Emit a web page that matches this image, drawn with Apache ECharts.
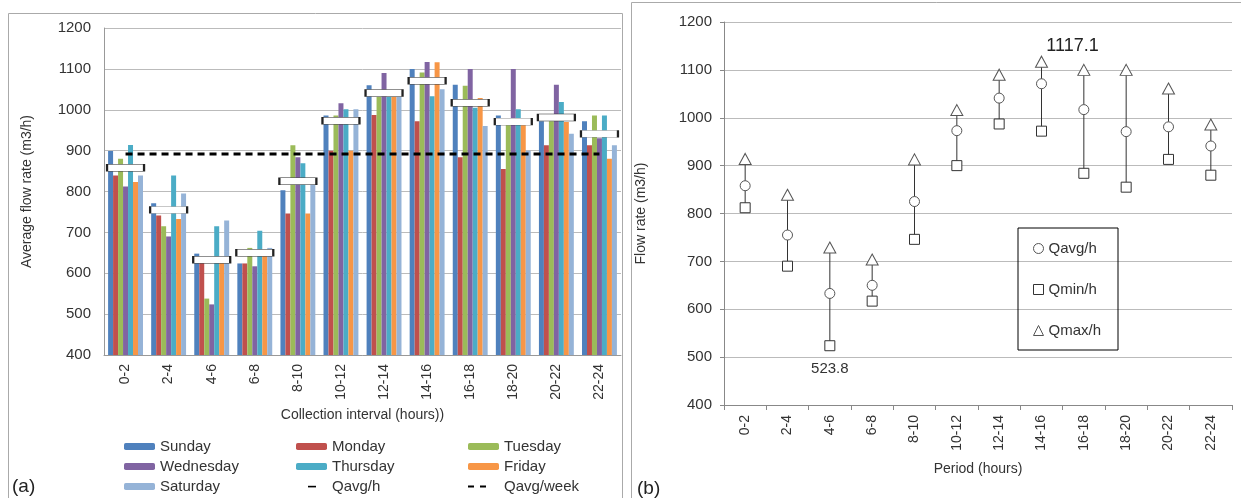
<!DOCTYPE html>
<html>
<head>
<meta charset="utf-8">
<script src="https://cdn.jsdelivr.net/npm/echarts@6/dist/echarts.min.js"></script>
<style>
  html, body { margin: 0; padding: 0; background: #fff; }
  #main { width: 1241px; height: 498px; }
</style>
</head>
<body>
<div id="main"></div>
<script>
    var periods = ['0-2', '2-4', '4-6', '6-8', '8-10', '10-12', '12-14', '14-16', '16-18', '18-20', '20-22', '22-24'];
    var days = ['Sunday', 'Monday', 'Tuesday', 'Wednesday', 'Thursday', 'Friday', 'Saturday'];

    // average flow per weekday (m3/h)
    var sunday    = [899, 771, 648, 624, 803, 986, 1060, 1100, 1061, 986, 972, 972];
    var monday    = [839, 741, 625, 624, 746, 900, 987, 972, 884, 855, 913, 913];
    var tuesday   = [880, 715, 538, 662, 913, 986, 1032, 1091, 1059, 962, 972, 986];
    var wednesday = [812, 690, 523.8, 617, 884, 1016, 1090, 1117.1, 1100, 1100, 1061, 930];
    var thursday  = [914, 839, 715, 704, 869, 1001, 1032, 1033, 1005, 1001, 1019, 986];
    var friday    = [823, 733, 625, 648, 746, 900, 1032, 1116, 1029, 962, 970, 880];
    var saturday  = [839, 795, 729, 662, 818, 1001, 1032, 1050, 960, 900, 941, 913];

    var qAvg = [858, 755, 633, 650, 825, 973, 1041, 1071, 1017, 971, 981, 941];
    var qMin = [812, 690, 523.8, 617, 746, 900, 987, 972, 884, 855, 913, 880];
    var qMax = [914, 839, 729, 704, 913, 1016, 1090, 1117.1, 1100, 1100, 1061, 986];
    var qAvgWeek = 892;

    var yTicks = { min: 400, max: 1200, interval: 100 };

    var dayValues = [sunday, monday, tuesday, wednesday, thursday, friday, saturday];
    var dayColors = ['#4F81BD', '#C0504D', '#9BBB59', '#8064A2', '#4BACC6', '#F79646', '#95B3D7'];

    var font = 'Liberation Sans, Arial, sans-serif';
    var txt = '#333';

    var myChart = echarts.init(document.getElementById('main'));

    var series = [];
    for (var i = 0; i < days.length; i++) {
        series.push({
            name: days[i],
            type: 'bar',
            xAxisIndex: 0, yAxisIndex: 0,
            barGap: 0,
            barCategoryGap: '19%',
            itemStyle: { color: dayColors[i] },
            data: dayValues[i]
        });
    }

    series.push({
        name: 'Qavg/week',
        type: 'line',
        xAxisIndex: 0, yAxisIndex: 0,
        symbol: 'none',
        z: 4,
        lineStyle: { color: '#000', width: 3, type: [7, 5] },
        data: periods.map(function (p, i) {
            if (i == 2) {
                return { value: qAvgWeek, label: { show: true, position: 'top', offset: [-8, -1], fontSize: 16, color: '#000', fontFamily: font } };
            }
            return qAvgWeek;
        })
    });

    series.push({
        name: 'Qavg/h',
        type: 'scatter',
        xAxisIndex: 0, yAxisIndex: 0,
        symbol: 'rect',
        symbolSize: [37, 7],
        z: 5,
        itemStyle: { color: '#fff', borderColor: '#222', borderWidth: 1, opacity: 1 },
        data: qAvg
    });

    // right chart: range bars
    series.push({
        type: 'custom',
        xAxisIndex: 1, yAxisIndex: 1,
        z: 1,
        data: periods.map(function (p, i) { return [i, qMin[i], qMax[i]]; }),
        encode: { x: 0, y: [1, 2] },
        renderItem: function (params, api) {
            var lo = api.coord([api.value(0), api.value(1)]);
            var hi = api.coord([api.value(0), api.value(2)]);
            return {
                type: 'line',
                shape: { x1: lo[0], y1: lo[1], x2: hi[0], y2: hi[1] },
                style: { stroke: '#333', lineWidth: 1 }
            };
        }
    });

    var hollow = { color: '#fff', borderColor: '#555', borderWidth: 1, opacity: 1 };

    series.push({
        name: 'Qavg/h',
        type: 'scatter',
        xAxisIndex: 1, yAxisIndex: 1,
        symbol: 'circle', symbolSize: 10, z: 3,
        itemStyle: hollow,
        data: qAvg
    });
    series.push({
        name: 'Qmin/h',
        type: 'scatter',
        xAxisIndex: 1, yAxisIndex: 1,
        symbol: 'rect', symbolSize: 10, z: 3,
        itemStyle: { color: '#fff', borderColor: '#333', borderWidth: 1, opacity: 1 },
        data: qMin.map(function (v, i) {
            if (i == 2) {
                return { value: v, label: { show: true, position: 'bottom', distance: 10, fontSize: 15, color: txt, fontFamily: font } };
            }
            return v;
        })
    });
    series.push({
        name: 'Qmax/h',
        type: 'scatter',
        xAxisIndex: 1, yAxisIndex: 1,
        symbol: 'triangle', symbolSize: [12, 11], z: 3,
        itemStyle: hollow,
        data: qMax.map(function (v, i) {
            if (i == 7) {
                return { value: v, label: { show: true, position: 'top', distance: 1, offset: [31, 0], fontSize: 18, color: '#222', fontFamily: font } };
            }
            return v;
        })
    });

    var dashIcon = 'path://M0,0M31,7M12,2.8H20V4.4H12Z';
    var dash2Icon = 'path://M0,0M31,7M0,2.5H6V4.5H0ZM12,2.5H18V4.5H12Z';

    function colLegend(left, items) {
        return {
            orient: 'vertical',
            left: left, top: 439, height: 70,
            padding: 0,
            itemWidth: 31, itemHeight: 7, itemGap: 5,
            selectedMode: false,
            textStyle: { fontSize: 15, color: txt, fontFamily: font, lineHeight: 14 },
            data: items
        };
    }

    function plainNum(v) { return String(v); }

    var option = {
        animation: false,
        backgroundColor: '#fff',
        textStyle: { fontFamily: font },
        grid: [
            { left: 104, right: 620, top: 28, bottom: 143 },
            { left: 724, right: 9, top: 22, bottom: 93 }
        ],
        legend: [
            colLegend(124, ['Sunday', 'Wednesday', 'Saturday']),
            colLegend(296, ['Monday', 'Thursday', { name: 'Qavg/h', icon: dashIcon, itemStyle: { color: '#000', borderWidth: 0 } }]),
            colLegend(468, ['Tuesday', 'Friday', { name: 'Qavg/week', icon: dash2Icon, itemStyle: { color: '#000', borderWidth: 0 } }]),
            {
                orient: 'vertical',
                left: 1018, top: 228,
                itemWidth: 10, itemHeight: 10, itemGap: 26,
                padding: [13, 17, 12, 15],
                borderColor: '#000', borderWidth: 1,
                selectedMode: false,
                textStyle: { fontSize: 15, color: txt, fontFamily: font, lineHeight: 15 },
                data: [
                    { name: 'Qavg/h', icon: 'circle', itemStyle: { color: '#fff', borderColor: '#555', borderWidth: 1 } },
                    { name: 'Qmin/h', icon: 'rect', itemStyle: { color: '#fff', borderColor: '#333', borderWidth: 1 } },
                    { name: 'Qmax/h', icon: 'triangle', itemStyle: { color: '#fff', borderColor: '#555', borderWidth: 1 } }
                ]
            }
        ],
        xAxis: [
            {
                type: 'category', gridIndex: 0, data: periods,
                name: 'Collection interval (hours))', nameLocation: 'middle', nameGap: 50,
                nameTextStyle: { fontSize: 14, color: txt, fontFamily: font },
                axisLine: { lineStyle: { color: '#999' } },
                axisTick: { show: false },
                axisLabel: { rotate: 90, margin: 9, fontSize: 14, color: txt, fontFamily: font }
            },
            {
                type: 'category', gridIndex: 1, data: periods,
                name: 'Period (hours)', nameLocation: 'middle', nameGap: 57,
                nameTextStyle: { fontSize: 14, color: txt, fontFamily: font },
                axisLine: { lineStyle: { color: '#888' } },
                axisTick: { show: true, length: 5, lineStyle: { color: '#888' } },
                axisLabel: { rotate: 90, margin: 10, fontSize: 14, color: txt, fontFamily: font }
            }
        ],
        yAxis: [
            {
                type: 'value', gridIndex: 0,
                min: yTicks.min, max: yTicks.max, interval: yTicks.interval,
                name: 'Average flow rate (m3/h)', nameLocation: 'middle', nameGap: 70,
                nameTextStyle: { fontSize: 14, color: txt, fontFamily: font },
                axisLine: { show: true, lineStyle: { color: '#999' } },
                axisTick: { show: false },
                axisLabel: { margin: 13, fontSize: 15, color: txt, fontFamily: font, formatter: plainNum },
                splitLine: { lineStyle: { color: '#bbb' } }
            },
            {
                type: 'value', gridIndex: 1,
                min: yTicks.min, max: yTicks.max, interval: yTicks.interval,
                name: 'Flow rate (m3/h)', nameLocation: 'middle', nameGap: 76,
                nameTextStyle: { fontSize: 14, color: txt, fontFamily: font },
                axisLine: { show: true, lineStyle: { color: '#888' } },
                axisTick: { show: true, length: 4, lineStyle: { color: '#888' } },
                axisLabel: { margin: 12, fontSize: 15, color: txt, fontFamily: font, formatter: plainNum },
                splitLine: { lineStyle: { color: '#bbb' } }
            }
        ],
        graphic: [
            { type: 'rect', shape: { x: 8.5, y: 13.5, width: 614, height: 495 }, style: { fill: 'none', stroke: '#aaa', lineWidth: 1 }, silent: true },
            { type: 'rect', shape: { x: 631.5, y: 2.5, width: 620, height: 505 }, style: { fill: 'none', stroke: '#aaa', lineWidth: 1 }, silent: true },
            { type: 'text', left: 12, top: 477, style: { text: '(a)', fontSize: 19, fill: '#222', fontFamily: font } },
            { type: 'text', left: 637, top: 479, style: { text: '(b)', fontSize: 19, fill: '#222', fontFamily: font } }
        ],
        series: series
    };

    myChart.setOption(option);
</script>
</body>
</html>
